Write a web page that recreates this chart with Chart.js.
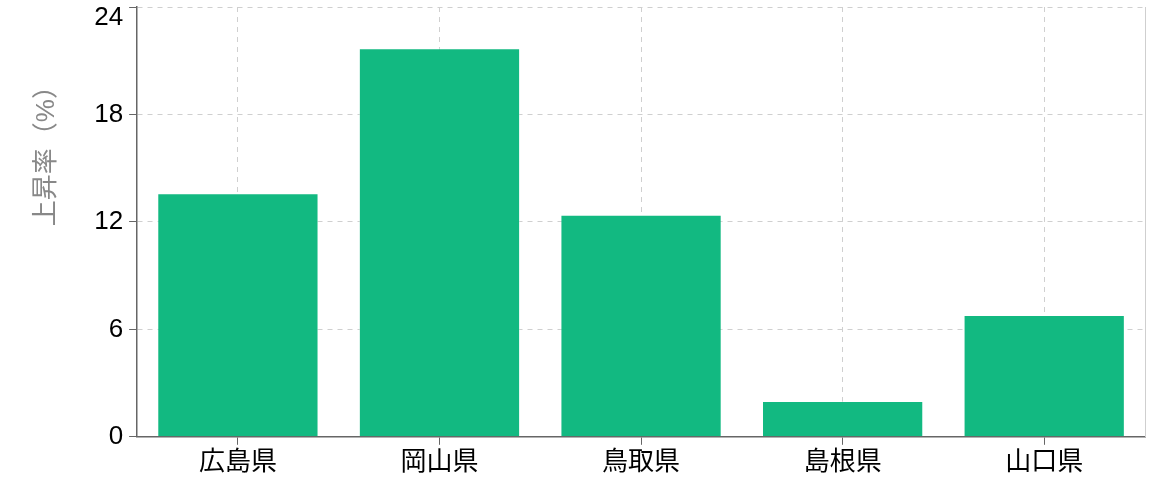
<!DOCTYPE html>
<html>
<head>
<meta charset="utf-8">
<script src="https://cdn.jsdelivr.net/npm/chart.js@4"></script>
<style>
  html, body { margin: 0; padding: 0; background: #fff; }
  #wrap { width: 1171px; height: 498px; }
</style>
</head>
<body>
<div id="wrap"><canvas id="mainChart"></canvas></div>
<script>
// Data
const prefectures = ['広島県', '岡山県', '鳥取県', '島根県', '山口県'];
const riseRates = [13.6, 21.7, 12.4, 2.0, 6.8];
const yTicks = [0, 6, 12, 18, 24];
const yMax = 24;

const FONT = "'Liberation Sans', 'Noto Sans CJK JP', sans-serif";

document.addEventListener('DOMContentLoaded', () => {
    const ctx = document.getElementById('mainChart');

    new Chart(ctx, {
        type: 'bar',
        data: {
            labels: prefectures,
            datasets: [{
                label: '上昇率',
                data: riseRates,
                backgroundColor: '#12b981',
                borderColor: 'rgba(255,255,255,0.35)',
                borderWidth: 1,
                barPercentage: 0.8,
                categoryPercentage: 1.0
            }]
        },
        options: {
            responsive: true,
            maintainAspectRatio: false,
            animation: false,
            layout: { padding: { left: 31, right: 26, top: 0, bottom: 18 } },
            plugins: {
                legend: { display: false },
                tooltip: { enabled: false }
            },
            scales: {
                x: {
                    grid: {
                        offset: false,
                        color: '#cfcfcf',
                        tickColor: '#666',
                        tickLength: 8
                    },
                    border: { color: '#666', width: 1.5, dash: [5, 5] },
                    ticks: { color: '#000', font: { family: FONT, size: 26 }, padding: 2 }
                },
                y: {
                    min: 0,
                    max: yMax,
                    afterBuildTicks: axis => { axis.ticks = yTicks.map(v => ({ value: v })); },
                    // top label sits inside the canvas, below its tick, as in the reference
                    afterFit: axis => { axis.paddingTop = 7; },
                    grid: {
                        color: '#cfcfcf',
                        tickColor: '#666',
                        tickLength: 8
                    },
                    border: { color: '#666', width: 1.5, dash: [5, 5] },
                    ticks: {
                        color: '#000',
                        padding: 6,
                        callback: v => v === yMax ? ['', String(v)] : String(v),
                        font: c => ({
                            family: FONT,
                            size: 26,
                            lineHeight: c.tick && c.tick.value === yMax ? 0.85 : 1.2
                        })
                    },
                    title: {
                        display: true,
                        text: '\u3000\u3000\u3000\u3000\u3000  上昇率（%）',
                        color: '#888',
                        font: { family: FONT, size: 26 },
                        padding: { top: 0, bottom: 26 }
                    }
                },
                yRight: {
                    position: 'right',
                    min: 0,
                    max: yMax,
                    ticks: { display: false },
                    grid: { drawOnChartArea: false, drawTicks: false },
                    border: { color: '#cfcfcf', width: 1, dash: [5, 5] }
                }
            }
        }
    });
});
</script>
</body>
</html>
